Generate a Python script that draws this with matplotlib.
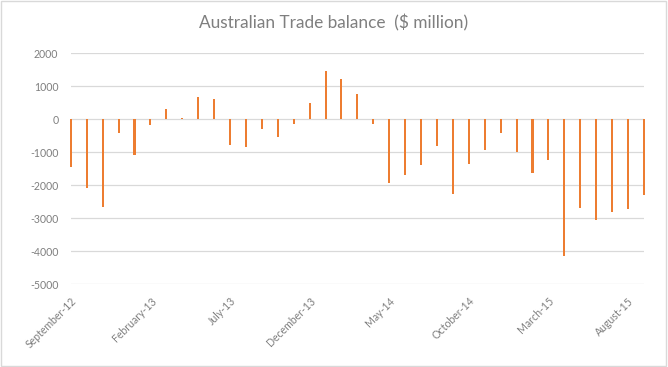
import matplotlib.pyplot as plt
from matplotlib.patches import Rectangle

# monthly trade balance, Sep 2012 .. Sep 2015 ($ million)
months = ["September-12", "October-12", "November-12", "December-12", "January-13",
          "February-13", "March-13", "April-13", "May-13", "June-13",
          "July-13", "August-13", "September-13", "October-13", "November-13",
          "December-13", "January-14", "February-14", "March-14", "April-14",
          "May-14", "June-14", "July-14", "August-14", "September-14",
          "October-14", "November-14", "December-14", "January-15", "February-15",
          "March-15", "April-15", "May-15", "June-15", "July-15",
          "August-15", "September-15"]
balance = [-1460, -2100, -2650, -430, -1080,
           -190, 310, 40, 680, 620,
           -780, -830, -290, -540, -140,
           500, 1460, 1220, 750, -140,
           -1930, -1690, -1380, -810, -2280,
           -1350, -930, -430, -990, -1630,
           -1250, -4160, -2680, -3070, -2800,
           -2710, -2310]
tick_every = 5
yticks = [2000, 1000, 0, -1000, -2000, -3000, -4000, -5000]

plt.rcParams['font.family'] = ['Lato', 'DejaVu Sans']

fig = plt.figure(figsize=(6.68, 3.67), dpi=100)
ax = fig.add_axes([0.106, 0.226, 0.858, 0.629])

x = list(range(len(balance)))
bars = ax.bar(x, balance, width=0.13, color='#ED7D31', zorder=3)
for b in bars:
    b.set_clip_on(False)  # first/last bars sit on the plot edges

ax.set_xlim(0, len(balance) - 1)
ax.set_ylim(min(yticks), max(yticks))
ax.set_yticks(yticks)
ax.set_yticklabels([str(v) for v in yticks])
ax.yaxis.grid(True, color='#d9d9d9', lw=0.9, zorder=0)
ax.set_axisbelow(True)

pos = x[::tick_every]
ax.set_xticks(pos)
ax.set_xticklabels([months[i] for i in pos], rotation=45, ha='right',
                   rotation_mode='anchor')

for s in ax.spines.values():
    s.set_visible(False)
ax.tick_params(axis='both', length=0, colors='#7f7f7f', labelsize=7.6)
ax.tick_params(axis='y', pad=9)
ax.tick_params(axis='x', pad=8)

fig.text(0.5, 0.937, "Australian Trade balance  ($ million)", ha='center', va='center',
         fontsize=12.4, color='#7f7f7f')

# chart area border
fig.patches.append(Rectangle((0.0015, 0.002), 0.995, 0.995, transform=fig.transFigure,
                             fill=False, edgecolor='#d9d9d9', lw=1))

fig.savefig('out.png', dpi=100)
